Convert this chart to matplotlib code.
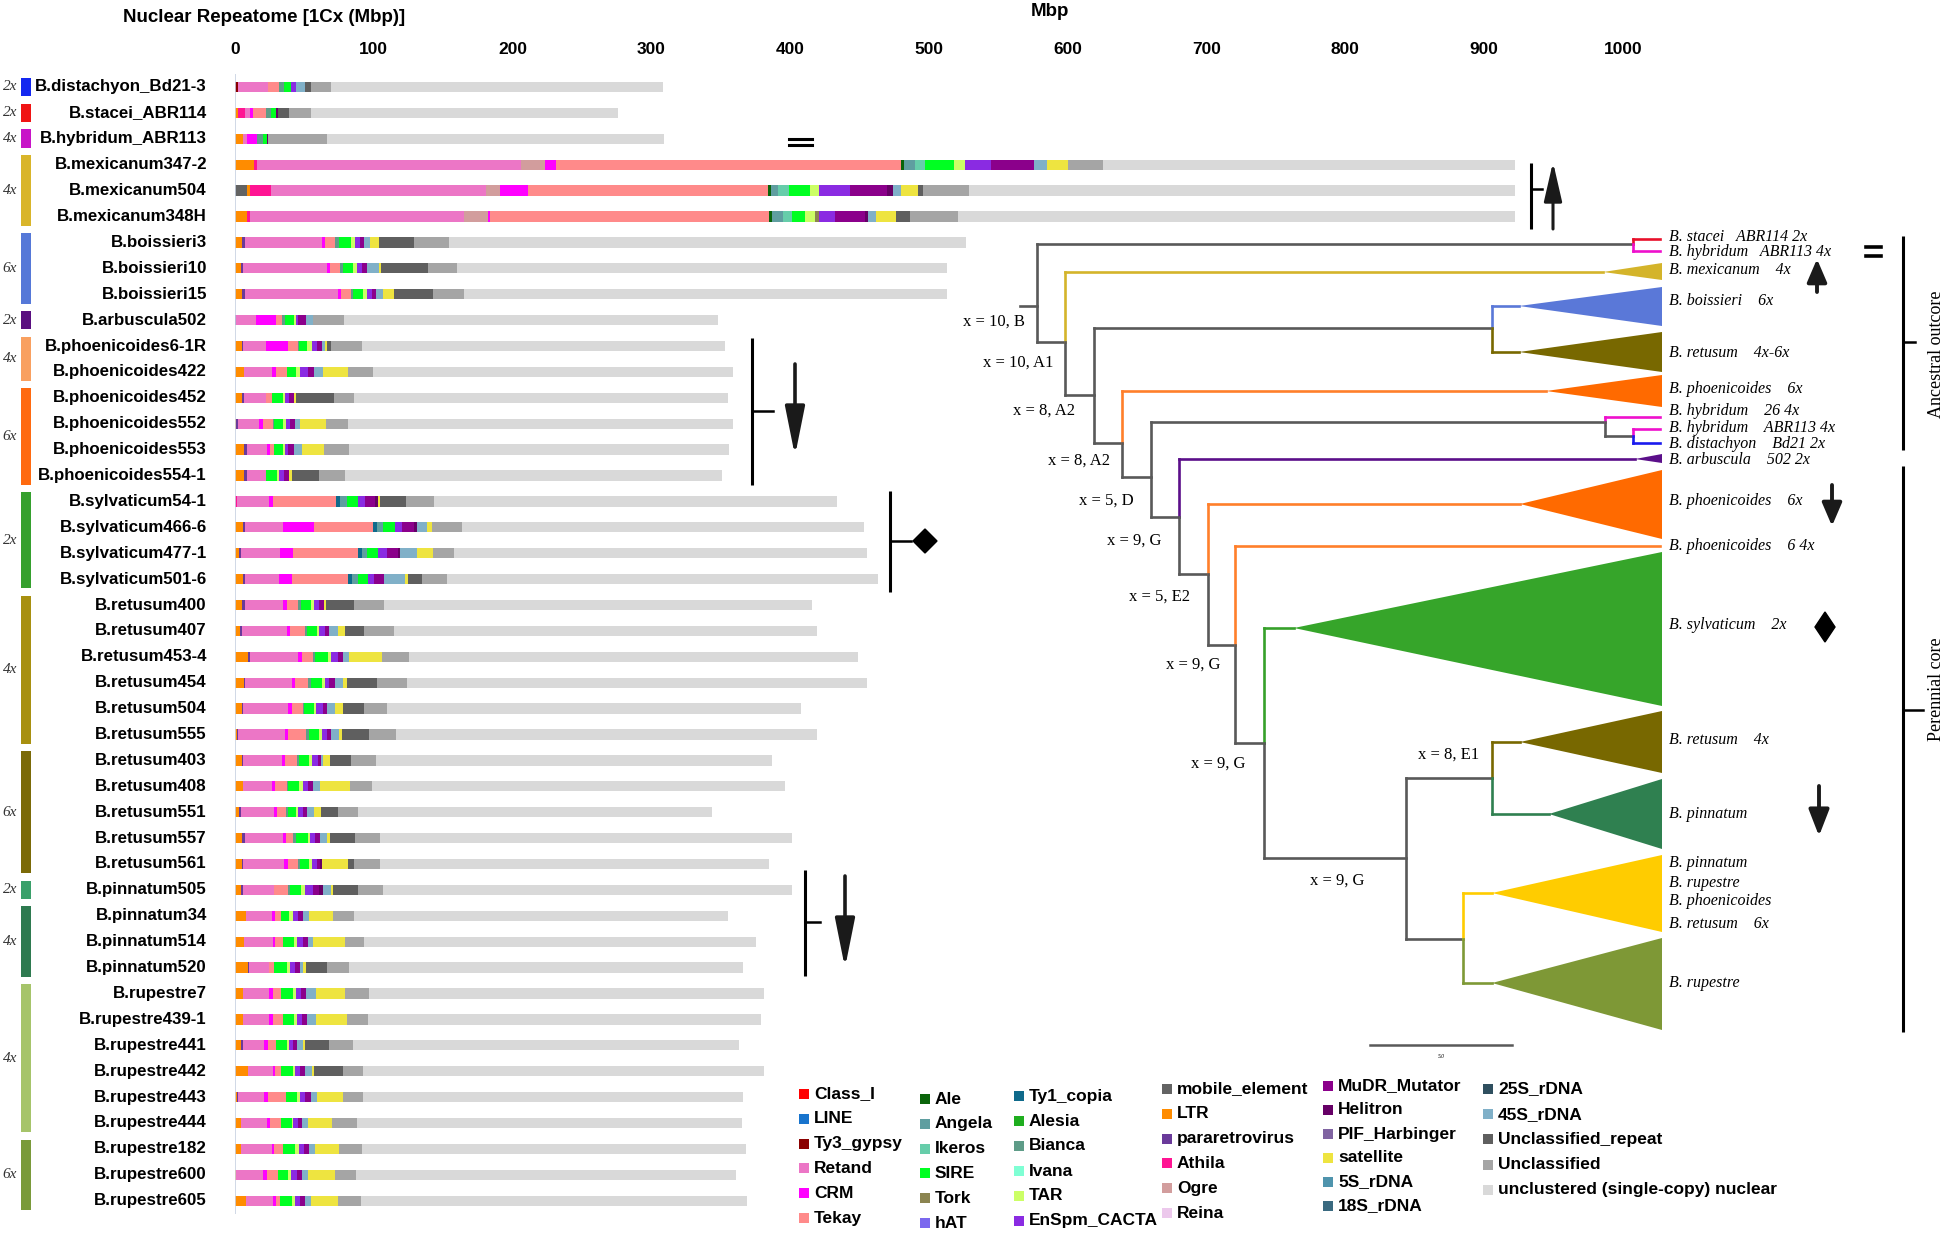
import numpy as np
import matplotlib.pyplot as plt
from matplotlib.patches import Polygon, Rectangle

plt.rcParams['font.family'] = ['Liberation Sans Narrow', 'Liberation Sans', 'DejaVu Sans']

# ---- samples (top to bottom) ----
sampleNames = ['B.distachyon_Bd21-3', 'B.stacei_ABR114', 'B.hybridum_ABR113', 'B.mexicanum347-2',
               'B.mexicanum504', 'B.mexicanum348H', 'B.boissieri3', 'B.boissieri10', 'B.boissieri15',
               'B.arbuscula502', 'B.phoenicoides6-1R', 'B.phoenicoides422', 'B.phoenicoides452',
               'B.phoenicoides552', 'B.phoenicoides553', 'B.phoenicoides554-1', 'B.sylvaticum54-1',
               'B.sylvaticum466-6', 'B.sylvaticum477-1', 'B.sylvaticum501-6', 'B.retusum400',
               'B.retusum407', 'B.retusum453-4', 'B.retusum454', 'B.retusum504', 'B.retusum555',
               'B.retusum403', 'B.retusum408', 'B.retusum551', 'B.retusum557', 'B.retusum561',
               'B.pinnatum505', 'B.pinnatum34', 'B.pinnatum514', 'B.pinnatum520', 'B.rupestre7',
               'B.rupestre439-1', 'B.rupestre441', 'B.rupestre442', 'B.rupestre443', 'B.rupestre444',
               'B.rupestre182', 'B.rupestre600', 'B.rupestre605']

# total nuclear 1Cx size (Mbp)
genomeSize = [308, 276, 309, 922, 922, 922, 527, 513, 513, 348, 353, 359, 355, 359, 356, 351, 434, 453,
              455, 463, 416, 419, 449, 455, 408, 419, 387, 396, 344, 401, 385, 401, 355, 375, 366, 381,
              379, 363, 381, 366, 365, 368, 361, 369]

# repeat amounts (Mbp), one value per sample
mobile_element = [0, 0, 0, 0, 9] + [0] * 39
LTR = [0, 2.5, 6, 14, 2, 9, 5, 4.6, 5, 0, 5, 6.2, 5, 0.7, 6.2, 6.7, 0, 5.5, 3.1, 5.5, 5, 3.6, 9.1, 6.7,
       4.8, 1.2, 4.8, 5.5, 3.1, 5, 5, 4.3, 7.9, 6.7, 9.1, 5.5, 5.5, 4.3, 9.1, 1.2, 4.3, 4.3, 0.7, 7.9]
Ty3_gypsy = [2.5] + [0] * 43
pararetrovirus = [0, 0, 0, 0, 0, 0, 2, 1.4, 1.9, 0.7, 1, 0, 1.7, 1.2, 2.2, 1.7, 0, 1.9, 1.2, 1.9, 1.9,
                  1.2, 1.7, 0.7, 1.2, 1.2, 1.2, 0, 1.2, 2.2, 1, 1.2, 0, 0, 1.2, 0, 0, 1.7, 0, 0.7, 0, 0,
                  0, 0]
Athila = [0, 5, 0, 2, 15, 2] + [0] * 10 + [1.4] + [0] * 27
Retand = [21, 3.5, 3, 190, 155, 154, 55.5, 60.3, 67.5, 14.4, 16.3, 20.2, 15.6, 15.6, 14.7, 13.9, 22.8,
          27.4, 28.1, 24.5, 27.4, 32.5, 34.9, 33.4, 32.5, 33.9, 27.6, 21.2, 23.6, 27.6, 29.6, 22.8,
          18.8, 20.4, 14.4, 19.2, 19.2, 15.1, 18, 19.2, 18.8, 22.1, 19.7, 19.2]
Ogre = [0, 0, 0, 17, 10, 17] + [0] * 38
CRM = [0, 2, 7, 8, 20, 2, 2.6, 2.4, 2.2, 14.4, 15.6, 3.1, 0, 2.4, 2.2, 0, 2.9, 21.9, 9.6, 9.1, 2.9, 2.4,
       2.4, 2.6, 2.4, 2.2, 2.4, 2.4, 2.4, 1.9, 2.4, 0, 2.2, 1.9, 0, 2.4, 2.4, 2.4, 1.9, 2.4, 2.2, 1.9,
       2.4, 2.4]
Tekay = [8, 9, 0, 249, 173, 201, 7.2, 7.2, 7, 4.1, 7.2, 7.7, 4.3, 7.2, 3.1, 0, 45.7, 42.5, 46.4, 40.1,
         8.4, 10.8, 7.9, 9.4, 7.9, 12.7, 8.4, 8.2, 6.5, 5.3, 7.2, 9.6, 4.3, 5.3, 3.6, 6, 7.7, 6, 4.1,
         13.2, 7.9, 6.5, 8.4, 3.1]
Ty1_copia = [0] * 16 + [3.1, 3.1, 2.9, 3.1] + [0] * 24
Ale = [0, 0, 0, 2, 2, 2] + [0] * 38
Angela = [0, 0, 0, 8, 5, 8] + [0] * 10 + [4.6, 4.1, 3.6, 4.1] + [0] * 24
Ikeros = [0, 0, 0, 7, 8, 6] + [0] * 38
Bianca = [3.5, 4, 4, 0, 0, 0, 2.9, 1.7, 1.7, 2.4, 1.2, 0, 0, 0.7, 0, 0, 0, 0, 0, 0, 1.9, 1.4, 1.9, 1.9,
          1.2, 1.9, 1.9, 1.2, 1.2, 1.9, 1.7, 1.7] + [0] * 12
SIRE = [5, 3.5, 3, 21, 15, 10, 8.4, 7.2, 6.7, 6.7, 5.5, 6.7, 7.7, 7, 6.5, 7.9, 7.9, 9.1, 8.4, 7.7, 7.2,
        7, 8.9, 7.7, 6.7, 7.7, 7.2, 7.9, 6, 8.4, 6.7, 7.9, 6, 7.9, 8.9, 8.4, 7.9, 7.7, 8.9, 7.9, 7.7,
        8.7, 7.2, 8.4]
TAR = [0, 0, 0, 8, 7, 7, 2.9, 2.9, 2.9, 1.2, 3.6, 3.1, 1.7, 1.9, 1.2, 1.7, 0, 0, 0, 0, 2.4, 1.9, 2.4,
       2.4, 1.7, 1.7, 1.9, 2.4, 1.7, 1.9, 1.9, 2.9, 2.4, 2.2, 2.4, 2.4, 1.7, 1.9, 1.4, 2.2, 1.2, 2.9,
       1.9, 2.2]
Tork = [0, 0, 0, 0, 0, 3] + [0] * 38
EnSpm_CACTA = [4, 0, 0, 19, 22, 11, 3.8, 3.8, 3.8, 1.7, 3.6, 5.8, 3.1, 3.1, 2.4, 3.6, 5.3, 4.8, 6, 4.3,
               3.6, 4.1, 5.3, 3.1, 4.8, 3.6, 4.1, 3.6, 3.1, 3.6, 3.4, 5.5, 3.6, 4.3, 3.8, 3.6, 3.6,
               2.4, 3.4, 3.8, 3.1, 3.6, 4.3, 3.6]
MuDR_Mutator = [0, 0, 0, 31, 27, 22, 2.4, 3.6, 2.9, 5.5, 3.4, 3.8, 3.6, 3.4, 4.3, 3.1, 7.2, 8.9, 7.9,
                7.2, 3.1, 2.6, 3.6, 4.1, 3.1, 3.1, 2.4, 3.6, 3.1, 3.4, 2.4, 4.8, 3.6, 4.1, 3.6, 3.6,
                3.6, 2.9, 3.8, 4.1, 2.9, 3.6, 3.4, 3.8]
Helitron = [0, 1.5, 1, 0, 4, 2] + [0] * 10 + [1.9, 1.7, 1.7] + [0] * 11 + [1.4, 2.9] + [0] * 12
rDNA_45S = [6.5, 0, 0, 9, 6, 6, 4.6, 8.9, 5.3, 4.8, 2.4, 6.5, 0, 3.6, 5.5, 0, 0, 7.2, 12, 14.9, 0, 7,
            4.3, 6, 6, 5.5, 1.7, 5.3, 5.3, 5, 0, 5.5, 4.8, 3.6, 2.2, 7.2, 6.7, 4.3, 4.8, 4.1, 4.8, 4.3,
            4.3, 4.1]
satellite = [0, 0, 0, 15, 12, 14, 6.2, 1.2, 7.9, 0, 1.4, 18, 1.2, 18.8, 16.1, 2.2, 1.7, 3.6, 11.5, 1.9,
             1.7, 4.8, 23.3, 2.4, 5.3, 2.2, 4.8, 21.2, 4.8, 2.2, 18.5, 1.2, 17.3, 22.8, 1.9, 21.2,
             22.4, 1.9, 1.7, 18.8, 17.1, 16.8, 20, 19.2]
Unclassified_repeat = [4.5, 8, 0, 0, 4, 10, 25.7, 33.7, 27.6, 0, 2.9, 0, 27.2, 0, 0, 20, 18.8, 0, 0,
                       10.1, 20.4, 13.9, 0, 21.6, 15.1, 20, 15.1, 0, 12, 18.3, 4.8, 18.5, 0, 0, 15.1,
                       0, 0, 17.3, 20.9, 0, 0, 0, 0, 0]
Unclassified = [14, 16, 42, 25, 33, 35, 25.2, 21.2, 22.4, 22.4, 22.1, 18.5, 14.9, 16.1, 18, 18.8, 20.4,
                21.6, 15.6, 18, 21.6, 21.2, 20, 21.6, 16.8, 19.2, 18, 16.3, 14.4, 18, 18.8, 18, 15.1,
                13.9, 15.6, 17.3, 14.9, 16.8, 13.9, 14.4, 18, 16.8, 14.9, 16.8]

stackOrder = [('mobile_element', mobile_element), ('LTR', LTR), ('Ty3_gypsy', Ty3_gypsy),
              ('pararetrovirus', pararetrovirus), ('Athila', Athila), ('Retand', Retand), ('Ogre', Ogre),
              ('CRM', CRM), ('Tekay', Tekay), ('Ty1_copia', Ty1_copia), ('Ale', Ale), ('Angela', Angela),
              ('Ikeros', Ikeros), ('Bianca', Bianca), ('SIRE', SIRE), ('TAR', TAR), ('Tork', Tork),
              ('EnSpm_CACTA', EnSpm_CACTA), ('MuDR_Mutator', MuDR_Mutator), ('Helitron', Helitron),
              ('45S_rDNA', rDNA_45S), ('satellite', satellite),
              ('Unclassified_repeat', Unclassified_repeat), ('Unclassified', Unclassified)]

repeatColors = {
    'Class_I': '#ff0000', 'LINE': '#1874cd', 'Ty3_gypsy': '#8b0000', 'Retand': '#ec76c6',
    'CRM': '#ff00ff', 'Tekay': '#ff8a8a', 'Ale': '#0a640a', 'Angela': '#5f9ea0', 'Ikeros': '#66cdaa',
    'SIRE': '#00ff22', 'Tork': '#8b8450', 'hAT': '#7b68ee', 'Ty1_copia': '#0f6a8b', 'Alesia': '#1fae1f',
    'Bianca': '#5e9c88', 'Ivana': '#7fffd4', 'TAR': '#ccff66', 'EnSpm_CACTA': '#8a2be2',
    'mobile_element': '#636363', 'LTR': '#ff8c00', 'pararetrovirus': '#6a3a9a', 'Athila': '#ff1493',
    'Ogre': '#d29d9d', 'Reina': '#ecc8ec', 'MuDR_Mutator': '#8b008b', 'Helitron': '#660066',
    'PIF_Harbinger': '#8064a2', 'satellite': '#eee440', '5S_rDNA': '#4f94ad', '18S_rDNA': '#3a6a80',
    '25S_rDNA': '#2f4f5f', '45S_rDNA': '#80b0c8', 'Unclassified_repeat': '#5f5f5f',
    'Unclassified': '#a5a5a5', 'unclustered (single-copy) nuclear': '#d9d9d9'}

legendColumns = [['Class_I', 'LINE', 'Ty3_gypsy', 'Retand', 'CRM', 'Tekay'],
                 ['Ale', 'Angela', 'Ikeros', 'SIRE', 'Tork', 'hAT'],
                 ['Ty1_copia', 'Alesia', 'Bianca', 'Ivana', 'TAR', 'EnSpm_CACTA'],
                 ['mobile_element', 'LTR', 'pararetrovirus', 'Athila', 'Ogre', 'Reina'],
                 ['MuDR_Mutator', 'Helitron', 'PIF_Harbinger', 'satellite', '5S_rDNA', '18S_rDNA'],
                 ['25S_rDNA', '45S_rDNA', 'Unclassified_repeat', 'Unclassified',
                  'unclustered (single-copy) nuclear']]

# ploidy groups: first row, last row, ploidy, colour
ploidyGroups = [(0, 0, '2x', '#1428f0'), (1, 1, '2x', '#f01414'), (2, 2, '4x', '#c814c8'),
                (3, 5, '4x', '#d9b52a'), (6, 8, '6x', '#5578d8'), (9, 9, '2x', '#5a0f80'),
                (10, 11, '4x', '#f9a060'), (12, 15, '6x', '#ff6a10'), (16, 19, '2x', '#35a02e'),
                (20, 25, '4x', '#a89010'), (26, 30, '6x', '#7b6a08'), (31, 31, '2x', '#3aa06a'),
                (32, 34, '4x', '#2e7a50'), (35, 40, '4x', '#a6c46a'), (41, 43, '6x', '#7a9a3a')]

# ---- phylogeny (pixel layout of the schematic tree) ----
GRAY = '#595959'
treeBranches = [
    (1020, 306, 1037, 306, GRAY), (1037, 244, 1037, 342, GRAY), (1037, 244, 1633, 244, GRAY),
    (1633, 239, 1633, 244, '#e8102a'), (1633, 244, 1633, 251, '#ee10cc'),
    (1633, 239, 1660, 239, '#e8102a'), (1633, 251, 1660, 251, '#ee10cc'),
    (1037, 342, 1065, 342, GRAY), (1065, 272, 1065, 342, '#d4b42a'), (1065, 342, 1065, 395, GRAY),
    (1065, 272, 1603, 272, '#d4b42a'),
    (1065, 395, 1094, 395, GRAY), (1094, 328, 1094, 443, GRAY), (1094, 328, 1492, 328, GRAY),
    (1492, 306, 1492, 328, '#5a78d8'), (1492, 328, 1492, 352, '#786800'),
    (1492, 306, 1519, 306, '#5a78d8'), (1492, 352, 1519, 352, '#786800'),
    (1094, 443, 1122, 443, GRAY), (1122, 391, 1122, 443, '#ff7f2a'), (1122, 443, 1122, 477, GRAY),
    (1122, 391, 1546, 391, '#ff7f2a'),
    (1122, 477, 1151, 477, GRAY), (1151, 422, 1151, 517, GRAY), (1151, 422, 1605, 422, GRAY),
    (1605, 417, 1605, 422, '#ee10cc'), (1605, 422, 1605, 436, GRAY), (1605, 417, 1660, 417, '#ee10cc'),
    (1605, 436, 1633, 436, GRAY), (1633, 429, 1633, 436, '#ee10cc'), (1633, 436, 1633, 443, '#1a1aee'),
    (1633, 429, 1660, 429, '#ee10cc'), (1633, 443, 1660, 443, '#1a1aee'),
    (1151, 517, 1179, 517, GRAY), (1179, 459, 1179, 517, '#5b0f8a'), (1179, 517, 1179, 574, GRAY),
    (1179, 459, 1635, 459, '#5b0f8a'),
    (1179, 574, 1208, 574, GRAY), (1208, 504, 1208, 574, '#ff7f2a'), (1208, 574, 1208, 645, GRAY),
    (1208, 504, 1520, 504, '#ff7f2a'),
    (1208, 645, 1235, 645, GRAY), (1235, 546, 1235, 645, '#ff7f2a'), (1235, 645, 1235, 743, GRAY),
    (1235, 546, 1660, 546, '#ff7f2a'),
    (1235, 743, 1264, 743, GRAY), (1264, 628, 1264, 743, '#36a02a'), (1264, 743, 1264, 858, GRAY),
    (1264, 628, 1294, 628, '#36a02a'),
    (1264, 858, 1406, 858, GRAY), (1406, 778, 1406, 939, GRAY), (1406, 778, 1492, 778, GRAY),
    (1492, 742, 1492, 778, '#786800'), (1492, 778, 1492, 814, '#2f8050'),
    (1492, 742, 1520, 742, '#786800'), (1492, 814, 1549, 814, '#2f8050'),
    (1406, 939, 1463, 939, GRAY), (1463, 893, 1463, 939, '#ffcc00'), (1463, 939, 1463, 983, '#7e9936'),
    (1463, 893, 1492, 893, '#ffcc00'), (1463, 983, 1492, 983, '#7e9936')]

# collapsed clades: apex x, apex y, base top, base bottom, colour
treeClades = [(1603, 272, 263, 280, '#d4b42a'), (1519, 306, 287, 326, '#5a78d8'),
              (1519, 352, 332, 372, '#786800'), (1546, 391, 375, 407, '#ff6a00'),
              (1635, 459, 454, 463, '#5b0f8a'), (1520, 504, 470, 539, '#ff6a00'),
              (1294, 628, 552, 706, '#36a52a'), (1520, 742, 711, 773, '#786800'),
              (1549, 814, 779, 849, '#2f8050'), (1492, 893, 855, 932, '#ffcc00'),
              (1492, 983, 938, 1030, '#7e9836')]

tipLabels = [('B. stacei   ABR114 2x', 237), ('B. hybridum   ABR113 4x', 252),
             ('B. mexicanum    4x', 270), ('B. boissieri    6x', 301), ('B. retusum    4x-6x', 353),
             ('B. phoenicoides    6x', 389), ('B. hybridum    26 4x', 411),
             ('B. hybridum    ABR113 4x', 428), ('B. distachyon    Bd21 2x', 444),
             ('B. arbuscula    502 2x', 460), ('B. phoenicoides    6x', 501),
             ('B. phoenicoides    6 4x', 546), ('B. sylvaticum    2x', 625), ('B. retusum    4x', 740),
             ('B. pinnatum', 814), ('B. pinnatum', 863), ('B. rupestre', 883), ('B. phoenicoides', 901),
             ('B. retusum    6x', 924), ('B. rupestre', 983)]

nodeLabels = [('x = 10, B', 994, 322), ('x = 10, A1', 1018, 363), ('x = 8, A2', 1044, 411),
              ('x = 8, A2', 1079, 461), ('x = 5, D', 1106, 501), ('x = 9, G', 1134, 541),
              ('x = 5, E2', 1160, 597), ('x = 9, G', 1193, 665), ('x = 9, G', 1218, 764),
              ('x = 8, E1', 1449, 755), ('x = 9, G', 1337, 881)]

W, H = 1949, 1237
MBP_LEFT, MBP_RIGHT = 235, 1623   # pixel position of 0 and 1000 Mbp
ROW0, ROWSTEP = 87, 25.9          # pixel centre of first row, spacing


def arrow(ax, x, yTail, yHead, headLen, headWidth, lw):
    # head sizes given in points (mutation_scale=1)
    style = '-|>,head_length=%g,head_width=%g' % (headLen, headWidth)
    ax.annotate('', xy=(x, yHead), xytext=(x, yTail),
                arrowprops=dict(arrowstyle=style, lw=lw, color='#1a1a1a', mutation_scale=1,
                                shrinkA=0, shrinkB=0))


def bracket(ax, x, yTop, yBottom, yTick, tickLen):
    ax.plot([x, x], [yTop, yBottom], color='black', lw=2.2, solid_capstyle='butt')
    ax.plot([x, x + tickLen], [yTick, yTick], color='black', lw=1.8)


def drawBars(fig):
    n = len(sampleNames)
    ax = fig.add_axes([MBP_LEFT / W, 1 - (ROW0 + ROWSTEP * (n - 0.5)) / H,
                       (MBP_RIGHT - MBP_LEFT) / W, ROWSTEP * n / H])
    y = np.arange(n)
    left = np.zeros(n)
    for name, vals in stackOrder:
        vals = np.array(vals, dtype=float)
        ax.barh(y, vals, left=left, height=0.4, color=repeatColors[name], linewidth=0)
        left += vals
    ax.barh(y, np.array(genomeSize) - left, left=left, height=0.4,
            color=repeatColors['unclustered (single-copy) nuclear'], linewidth=0)

    ax.set_xlim(0, 1000)
    ax.set_ylim(n - 0.5, -0.5)
    ax.axvline(0, color='#c8d2e2', lw=1.2)
    ax.xaxis.tick_top()
    ax.set_xticks(range(0, 1001, 100))
    ax.tick_params(axis='x', length=0, pad=12, labelsize=12.5)
    for lab in ax.get_xticklabels():
        lab.set_fontweight('bold')
    ax.set_yticks([])
    for s in ax.spines.values():
        s.set_visible(False)

    mbpPerPx = 1000 / (MBP_RIGHT - MBP_LEFT)
    for i, name in enumerate(sampleNames):
        ax.text((207 - MBP_LEFT) * mbpPerPx, i, name, ha='right', va='center', fontsize=12.2,
                fontweight='bold', clip_on=False)
    for first, last, ploidy, col in ploidyGroups:
        x0 = (21 - MBP_LEFT) * mbpPerPx
        ax.add_patch(Rectangle((x0, first - 0.36), 10 * mbpPerPx, last - first + 0.72,
                               color=col, clip_on=False, linewidth=0))
        ax.text((10 - MBP_LEFT) * mbpPerPx, (first + last) / 2, ploidy, ha='center', va='center',
                fontsize=11, style='italic', family=['Liberation Serif', 'DejaVu Serif'],
                color='#333333', clip_on=False)
    return ax


def drawOverlay(fig):
    ax = fig.add_axes([0, 0, 1, 1])
    ax.set_xlim(0, W)
    ax.set_ylim(H, 0)
    ax.axis('off')

    ax.text(264, 17, 'Nuclear Repeatome [1Cx (Mbp)]', ha='center', va='center', fontsize=13.5,
            fontweight='bold')
    ax.text(1050, 11, 'Mbp', ha='center', va='center', fontsize=13.5, fontweight='bold')

    # markers next to the bars
    for yy in (139, 145):
        ax.plot([789, 812], [yy, yy], color='black', lw=2.2)
    bracket(ax, 1531, 163, 229, 189, 11)
    arrow(ax, 1553, 229, 162, 24, 5.5, 2.2)
    bracket(ax, 752, 338, 485, 411, 21)
    arrow(ax, 795, 364, 456, 30, 6, 2.6)
    bracket(ax, 890, 491, 592, 541, 21)
    ax.add_patch(Polygon([(925, 529), (937, 541), (925, 553), (913, 541)], color='black'))
    bracket(ax, 805, 870, 976, 922, 15)
    arrow(ax, 845, 876, 968, 30, 6, 2.6)

    # tree
    serif = ['Liberation Serif', 'DejaVu Serif']
    for x1, y1, x2, y2, col in treeBranches:
        ax.plot([x1, x2], [y1, y2], color=col, lw=1.9, solid_capstyle='projecting')
    for xa, ya, yt, yb, col in treeClades:
        ax.add_patch(Polygon([(xa, ya), (1662, yt), (1662, yb)], color=col, linewidth=0))
    for txt, yy in tipLabels:
        ax.text(1669, yy, txt, ha='left', va='center', fontsize=11.5, style='italic', family=serif)
    for txt, xx, yy in nodeLabels:
        ax.text(xx, yy, txt, ha='center', va='center', fontsize=12, family=serif)
    ax.plot([1370, 1512], [1045, 1045], color=GRAY, lw=1.8)
    ax.text(1441, 1056, '5.0', ha='center', va='center', fontsize=4, style='italic', family=serif)

    for yy in (247, 256):
        ax.plot([1866, 1881], [yy, yy], color='black', lw=2.6)
    arrow(ax, 1817, 292, 259, 14, 6, 2.8)
    arrow(ax, 1832, 485, 526, 14, 6, 2.8)
    ax.add_patch(Polygon([(1825, 612), (1835, 627), (1825, 642), (1815, 627)], color='black'))
    arrow(ax, 1819, 786, 836, 16, 6.2, 2.8)

    bracket(ax, 1903, 236, 450, 342, 12)
    bracket(ax, 1903, 466, 1032, 710, 20)
    ax.text(1937, 354, 'Ancestral outcore', rotation=90, ha='center', va='center', fontsize=13,
            family=serif)
    ax.text(1937, 689, 'Perennial core', rotation=90, ha='center', va='center', fontsize=13,
            family=serif)

    # legend
    colX = [799, 920, 1014, 1162, 1323, 1483]
    colY = [1094, 1099, 1096, 1089, 1086, 1089]
    colStep = [24.8, 24.8, 25, 24.8, 24, 25.2]
    for c, names in enumerate(legendColumns):
        for r, name in enumerate(names):
            yy = colY[c] + r * colStep[c]
            ax.add_patch(Rectangle((colX[c], yy - 5), 10, 10, color=repeatColors[name], linewidth=0))
            ax.text(colX[c] + 15, yy, name, ha='left', va='center', fontsize=12.5, fontweight='bold')


def main():
    fig = plt.figure(figsize=(W / 100, H / 100), dpi=100)
    drawBars(fig)
    drawOverlay(fig)
    fig.savefig('out.png', dpi=100, facecolor='white')


if __name__ == '__main__':
    main()
